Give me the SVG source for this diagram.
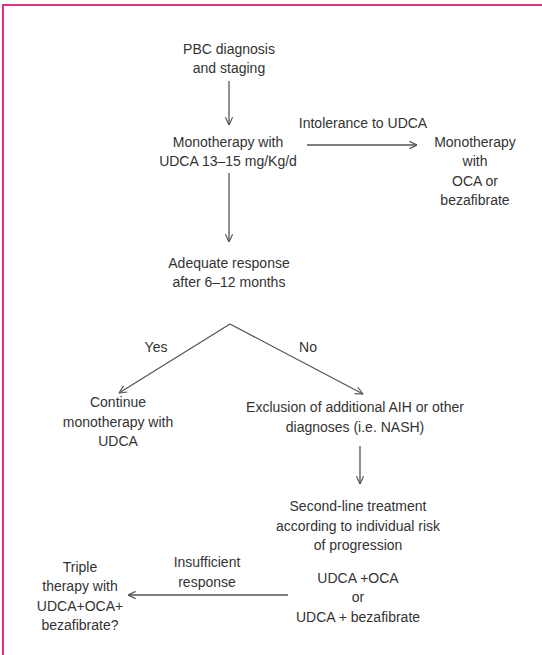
<svg xmlns="http://www.w3.org/2000/svg" width="542" height="655" viewBox="0 0 542 655">
<style>
  text { font-family: "Liberation Sans", Arial, sans-serif; font-size: 14px; fill: #333; text-anchor: middle; }
  .conn { stroke: #555; stroke-width: 1.3; fill: none; marker-end: url(#arr); }
  .frame { stroke: #e0307f; stroke-width: 2; fill: none; }
</style>
<defs>
  <marker id="arr" viewBox="0 0 10 10" refX="9.5" refY="5" markerWidth="9" markerHeight="9" markerUnits="userSpaceOnUse" orient="auto">
    <path d="M1,1 L9.5,5 L1,9" fill="none" stroke="#555" stroke-width="1.3"/>
  </marker>
</defs>
<rect width="542" height="655" fill="#fff"/>
<path class="frame" d="M3,655 L3,5 L542,5"/>

<g id="connectors">
  <line class="conn" x1="229" y1="81" x2="229" y2="125"/>
  <line class="conn" x1="307" y1="145" x2="417" y2="145"/>
  <line class="conn" x1="229" y1="173" x2="229" y2="242"/>
  <line class="conn" x1="230" y1="324" x2="119" y2="393"/>
  <line class="conn" x1="230" y1="324" x2="363" y2="394"/>
  <line class="conn" x1="360" y1="446" x2="360" y2="484"/>
  <line class="conn" x1="288" y1="595" x2="128" y2="595"/>
  <text x="363" y="128">Intolerance to UDCA</text>
  <text x="156" y="352">Yes</text>
  <text x="308" y="352">No</text>
  <text x="207" y="567">Insufficient</text>
  <text x="207" y="587">response</text>
</g>

<g id="n-diagnosis">
  <text x="229" y="54">PBC diagnosis</text>
  <text x="229" y="73">and staging</text>
</g>
<g id="n-udca">
  <text x="228" y="147">Monotherapy with</text>
  <text x="228" y="166">UDCA 13–15 mg/Kg/d</text>
</g>
<g id="n-oca">
  <text x="475" y="147">Monotherapy</text>
  <text x="475" y="166">with</text>
  <text x="475" y="186">OCA or</text>
  <text x="475" y="205">bezafibrate</text>
</g>
<g id="n-response">
  <text x="229" y="268">Adequate response</text>
  <text x="229" y="287">after 6–12 months</text>
</g>
<g id="n-continue">
  <text x="118" y="407">Continue</text>
  <text x="118" y="427">monotherapy with</text>
  <text x="118" y="446">UDCA</text>
</g>
<g id="n-exclusion">
  <text x="355" y="412">Exclusion of additional AIH or other</text>
  <text x="355" y="432">diagnoses (i.e. NASH)</text>
</g>
<g id="n-second">
  <text x="358" y="511">Second-line treatment</text>
  <text x="358" y="531">according to individual risk</text>
  <text x="358" y="550">of progression</text>
  <text x="358" y="583">UDCA +OCA</text>
  <text x="358" y="602">or</text>
  <text x="358" y="622">UDCA + bezafibrate</text>
</g>
<g id="n-triple">
  <text x="80" y="572">Triple</text>
  <text x="80" y="591">therapy with</text>
  <text x="80" y="611">UDCA+OCA+</text>
  <text x="80" y="630">bezafibrate?</text>
</g>
</svg>
